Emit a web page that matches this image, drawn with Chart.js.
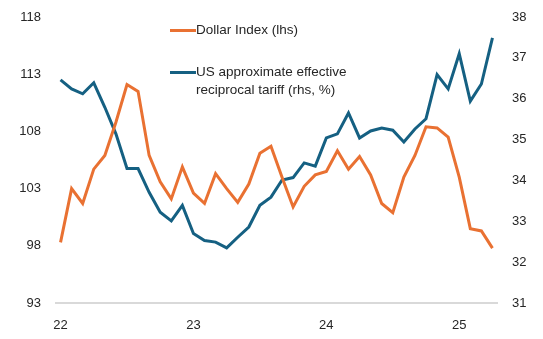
<!DOCTYPE html>
<html lang="en">
<head>
    <meta charset="UTF-8">
    <title>Dollar Index vs US reciprocal tariff</title>
    <script src="https://cdn.jsdelivr.net/npm/chart.js"></script>
    <style>
        html, body { margin: 0; padding: 0; background: #ffffff; }
        .wrap { position: relative; width: 543px; height: 339px; }
        .legend { position: absolute; font-family: 'Liberation Sans', Arial, sans-serif; font-size: 13.5px; color: #262626; line-height: 18px; }
        .legend .swatch { position: absolute; left: 0; width: 26px; height: 3px; }
        .legend .txt { position: absolute; left: 26px; white-space: nowrap; }
    </style>
</head>
<body>
    <div class="wrap">
        <canvas id="chart" width="543" height="339"></canvas>
        <!-- legend drawn as html, sits inside the plot like the original -->
        <div class="legend" style="left:170px; top:21px;">
            <div class="swatch" style="top:8px; background:#E97132;"></div>
            <div class="txt" style="top:0;">Dollar Index (lhs)</div>
        </div>
        <div class="legend" style="left:170px; top:63px;">
            <div class="swatch" style="top:8px; background:#156082;"></div>
            <div class="txt" style="top:0;">US approximate effective<br>reciprocal tariff (rhs, %)</div>
        </div>
    </div>

    <script>
        // --- DATA (monthly, Jan 22 .. Apr 25) ---
        const months = [
            'Jan 22', 'Feb 22', 'Mar 22', 'Apr 22', 'May 22', 'Jun 22', 'Jul 22', 'Aug 22', 'Sep 22', 'Oct 22', 'Nov 22', 'Dec 22',
            'Jan 23', 'Feb 23', 'Mar 23', 'Apr 23', 'May 23', 'Jun 23', 'Jul 23', 'Aug 23', 'Sep 23', 'Oct 23', 'Nov 23', 'Dec 23',
            'Jan 24', 'Feb 24', 'Mar 24', 'Apr 24', 'May 24', 'Jun 24', 'Jul 24', 'Aug 24', 'Sep 24', 'Oct 24', 'Nov 24', 'Dec 24',
            'Jan 25', 'Feb 25', 'Mar 25', 'Apr 25'
        ];
        const tickLabels = ['22', '23', '24', '25'];

        const dollarIndex = [
            98.3, 103.0, 101.7, 104.7, 105.9, 108.8, 112.1, 111.5, 105.9, 103.6, 102.1, 104.9,
            102.6, 101.7, 104.3, 103.0, 101.8, 103.4, 106.1, 106.7, 104.0, 101.4, 103.2, 104.2,
            104.5, 106.3, 104.7, 105.8, 104.2, 101.7, 100.9, 104.0, 105.9, 108.4, 108.3, 107.5,
            104.0, 99.5, 99.3, 97.8
        ];
        const tariff = [
            36.46, 36.24, 36.12, 36.39, 35.79, 35.14, 34.29, 34.29, 33.71, 33.22, 33.01, 33.39,
            32.70, 32.53, 32.49, 32.35, 32.61, 32.86, 33.39, 33.59, 34.01, 34.07, 34.43, 34.35,
            35.04, 35.14, 35.65, 35.04, 35.21, 35.28, 35.23, 34.94, 35.26, 35.51, 36.59, 36.24,
            37.10, 35.94, 36.36, 37.49
        ];

        const tickFont = { family: "'Liberation Sans', Arial, sans-serif", size: 13 };
        const tickColor = '#262626';

        // keep the plot area where the original has it, no auto padding for labels
        function fitY(width) {
            return s => {
                s.width = width;
                s.paddingTop = 0;
                s.paddingBottom = 0;
            };
        }

        new Chart(document.getElementById('chart'), {
            type: 'line',
            data: {
                labels: months,
                datasets: [
                    {
                        label: 'Dollar Index (lhs)',
                        data: dollarIndex,
                        yAxisID: 'yL',
                        borderColor: '#E97132',
                        borderWidth: 3,
                        pointRadius: 0,
                        tension: 0,
                        fill: false
                    },
                    {
                        label: 'US approximate effective reciprocal tariff (rhs, %)',
                        data: tariff,
                        yAxisID: 'yR',
                        borderColor: '#156082',
                        borderWidth: 3,
                        pointRadius: 0,
                        tension: 0,
                        fill: false
                    }
                ]
            },
            options: {
                responsive: false,
                animation: false,
                layout: { padding: { top: 17, left: 0, right: 0, bottom: 0 } },
                plugins: {
                    legend: { display: false },
                    tooltip: { enabled: false }
                },
                scales: {
                    x: {
                        type: 'category',
                        offset: true,
                        grid: { display: false },
                        border: { display: false },
                        ticks: {
                            autoSkip: false,
                            maxRotation: 0,
                            padding: 7,
                            font: tickFont,
                            color: tickColor,
                            callback: (val, idx) => idx % 12 === 0 ? tickLabels[idx / 12] : ''
                        },
                        afterFit: s => { s.height = 36; s.paddingLeft = 0; s.paddingRight = 0; }
                    },
                    yL: {
                        position: 'left',
                        min: 93,
                        max: 118,
                        ticks: { stepSize: 5, padding: 14, font: tickFont, color: tickColor },
                        border: { display: false },
                        grid: {
                            drawTicks: false,
                            lineWidth: 2,
                            color: c => c.tick && c.tick.value === 93 ? '#d9d9d9' : 'rgba(0,0,0,0)'
                        },
                        afterFit: fitY(55)
                    },
                    yR: {
                        position: 'right',
                        min: 31,
                        max: 38,
                        ticks: { stepSize: 1, padding: 14, font: tickFont, color: tickColor },
                        border: { display: false },
                        grid: { display: false, drawTicks: false },
                        afterFit: fitY(45)
                    }
                }
            }
        });
    </script>
</body>
</html>
